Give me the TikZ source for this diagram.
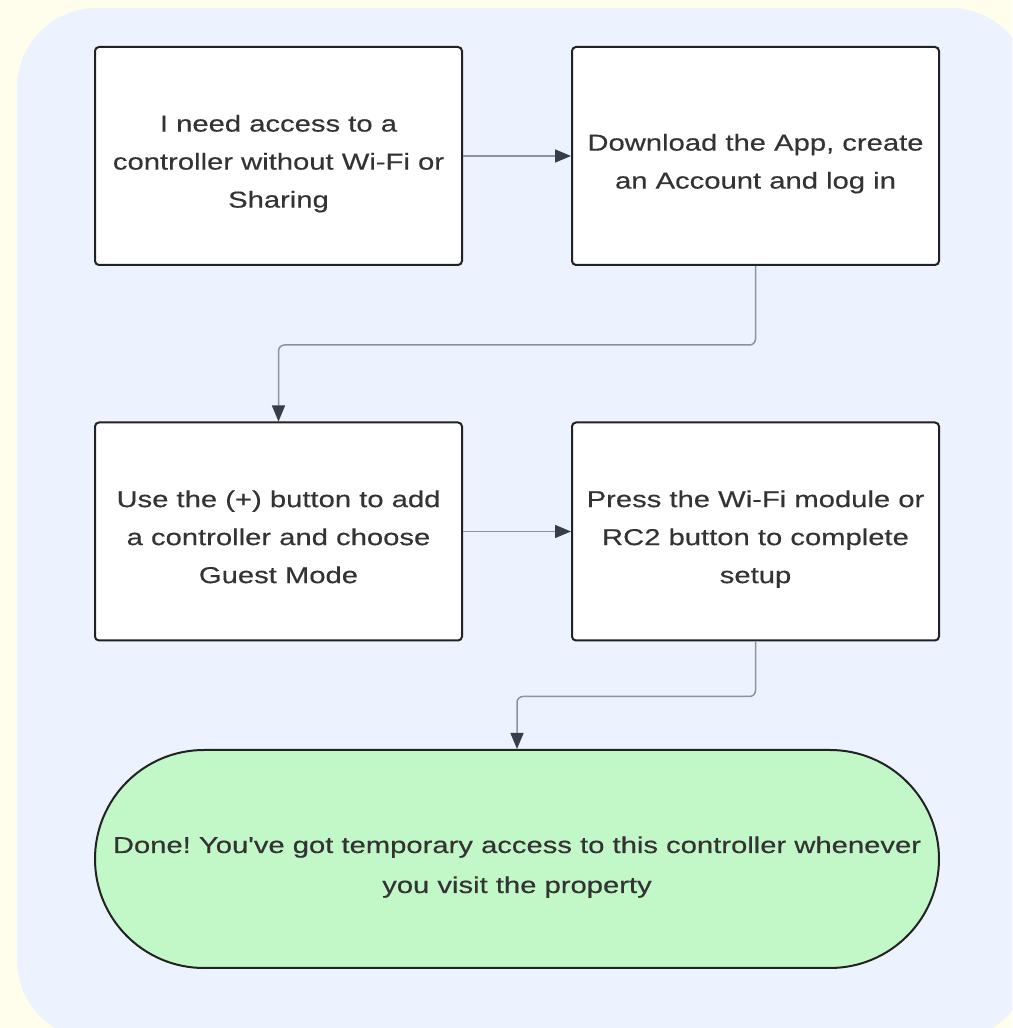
\documentclass[tikz,border=0pt]{standalone}
\usepackage{fontspec}
\newfontfamily\diagfont{Liberation Sans}[FakeStretch=1.27,FakeBold=0.35]
\usetikzlibrary{arrows.meta}
\definecolor{bgyellow}{HTML}{FFFDEB}
\definecolor{bgblue}{HTML}{ECF3FF}
\definecolor{boxline}{HTML}{222222}
\definecolor{textgray}{HTML}{333333}
\definecolor{connline}{HTML}{8A939E}
\definecolor{arrowc}{HTML}{363E4A}
\definecolor{termfill}{HTML}{C2F7C8}
\frenchspacing
\newcommand{\droplines}[1]{\raisebox{-6pt}[\height][\depth]{\begin{tabular}{@{}c@{}}#1\end{tabular}}}
\tikzset{
  stepbox/.style={draw=boxline, line width=2pt, rounded corners=4pt, fill=white,
    minimum width=367pt, minimum height=218pt, inner sep=0pt,
    text=textgray, font=\diagfont\fontsize{23}{38}\selectfont},
  termbox/.style={draw=boxline, line width=2pt, rounded corners=109pt, fill=termfill,
    minimum width=844pt, minimum height=218pt, inner sep=0pt,
    text=textgray, font=\diagfont\fontsize{23}{40}\selectfont},
  conn/.style={draw=connline, line width=1.5pt, rounded corners=6pt,
    -{Triangle[length=16pt,width=13pt,color=arrowc]}}
}
\begin{document}
\begin{tikzpicture}[x=1pt,y=1pt]
\useasboundingbox (0,0) rectangle (1012,1028);
\clip (0,0) rectangle (1012,1028);
\fill[bgyellow] (0,0) rectangle (1012,1028);
\fill[bgblue, rounded corners=80pt] (17,-12) rectangle (1030,1020);
\node[stepbox] (b1) at (278.5,872) {\droplines{I need access to a\\controller without Wi-Fi or\\Sharing}};
\node[stepbox] (b2) at (755.5,872) {\droplines{Download the App, create\\an Account and log in}};
\node[stepbox] (b3) at (278.5,496.5) {\droplines{Use the (+) button to add\\a controller and choose\\Guest Mode}};
\node[stepbox] (b4) at (755.5,496.5) {\droplines{Press the Wi-Fi module or\\RC2 button to complete\\setup}};
\node[termbox] (term) at (517,169) {\droplines{Done! You've got temporary access to this controller whenever\\you visit the property}};
\draw[conn] (b1.east) -- (b2.west);
\draw[conn] (b2.south) -- ++(0,-79) -| (b3.north);
\draw[conn] (b3.east) -- (b4.west);
\draw[conn] (b4.south) -- ++(0,-55) -| (term.north);
\end{tikzpicture}
\end{document}
